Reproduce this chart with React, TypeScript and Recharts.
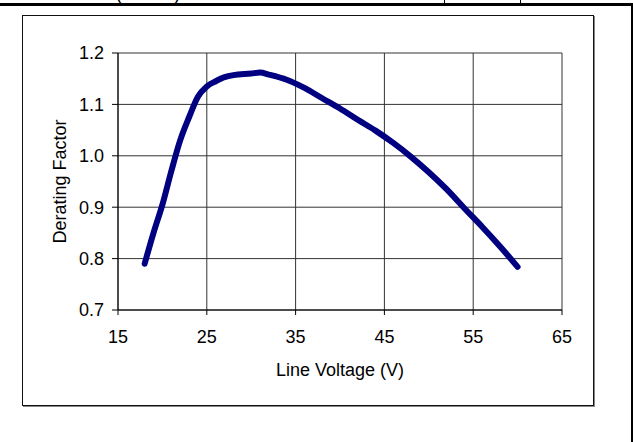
import React from 'react';
import { LineChart, Line, XAxis, YAxis, CartesianGrid } from 'recharts';

// line voltage (V) and derating factor
const voltages = [18, 19, 20, 21, 22, 23, 24, 25, 26, 27, 28, 30, 31, 32, 34, 36, 38, 40, 42, 44, 46, 48, 50, 52, 54, 56, 58, 60];
const derating = [0.79, 0.85, 0.905, 0.97, 1.03, 1.075, 1.115, 1.135, 1.145, 1.153, 1.157, 1.16, 1.162, 1.158, 1.148, 1.132, 1.112, 1.092, 1.07, 1.049, 1.025, 0.998, 0.968, 0.935, 0.898, 0.862, 0.824, 0.784];

const xTicks = [15, 25, 35, 45, 55, 65];
const yTicks = [0.7, 0.8, 0.9, 1.0, 1.1, 1.2];

const data = voltages.map((v, i) => ({ v, f: derating[i] }));

const FONT = '"Liberation Sans", Arial, sans-serif';

const App: React.FC = () => {
  return (
    <div style={{ position: 'absolute', left: 0, top: 0, width: 633, height: 442, background: '#fff', fontFamily: FONT, overflow: 'hidden' }}>
      {/* bits of the page above the figure */}
      <div style={{ position: 'absolute', left: 0, top: 3, width: 633, height: 2.5, background: '#000' }} />
      <div style={{ position: 'absolute', left: 631, top: 3, width: 2, height: 439, background: '#000' }} />
      <div style={{ position: 'absolute', left: 444, top: 0, width: 1, height: 4, background: '#000' }} />
      <div style={{ position: 'absolute', left: 520, top: 0, width: 1, height: 4, background: '#000' }} />
      <span style={{ position: 'absolute', left: 116, top: -16, fontSize: 18, lineHeight: '20px' }}>(</span>
      <span style={{ position: 'absolute', left: 174, top: -16, fontSize: 18, lineHeight: '20px' }}>)</span>

      {/* chart frame */}
      <div style={{ position: 'absolute', left: 22, top: 15, width: 572, height: 391, border: '1px solid #111', boxShadow: '1px 1px 0 #888', boxSizing: 'border-box' }} />

      <div style={{ position: 'absolute', left: 0, top: 0 }}>
        <LineChart width={633} height={442} data={data} margin={{ top: 53, right: 71, bottom: 82, left: 0 }}>
          <CartesianGrid stroke="#333" strokeWidth={1} horizontalValues={yTicks} verticalValues={xTicks} />
          <XAxis
            dataKey="v"
            type="number"
            domain={[15, 65]}
            ticks={xTicks}
            height={50}
            tickSize={5}
            tickMargin={15}
            stroke="#000"
            tick={{ fill: '#000', fontSize: 18, fontFamily: FONT }}
            label={{ value: 'Line Voltage (V)', position: 'bottom', offset: 3, fill: '#000', fontSize: 18, fontFamily: FONT }}
          />
          <YAxis
            type="number"
            domain={[0.7, 1.2]}
            ticks={yTicks}
            width={118}
            tickSize={6}
            tickMargin={8}
            stroke="#000"
            tickFormatter={(t: number) => t.toFixed(1)}
            tick={{ fill: '#000', fontSize: 18, fontFamily: FONT }}
            label={{ value: 'Derating Factor', angle: -90, position: 'insideLeft', offset: 60, fill: '#000', fontSize: 18, fontFamily: FONT, style: { textAnchor: 'middle' } }}
          />
          <Line
            dataKey="f"
            type="monotone"
            stroke="#000080"
            strokeWidth={6}
            strokeLinecap="round"
            strokeLinejoin="round"
            dot={false}
            isAnimationActive={false}
          />
        </LineChart>
      </div>
    </div>
  );
};

export default App;
